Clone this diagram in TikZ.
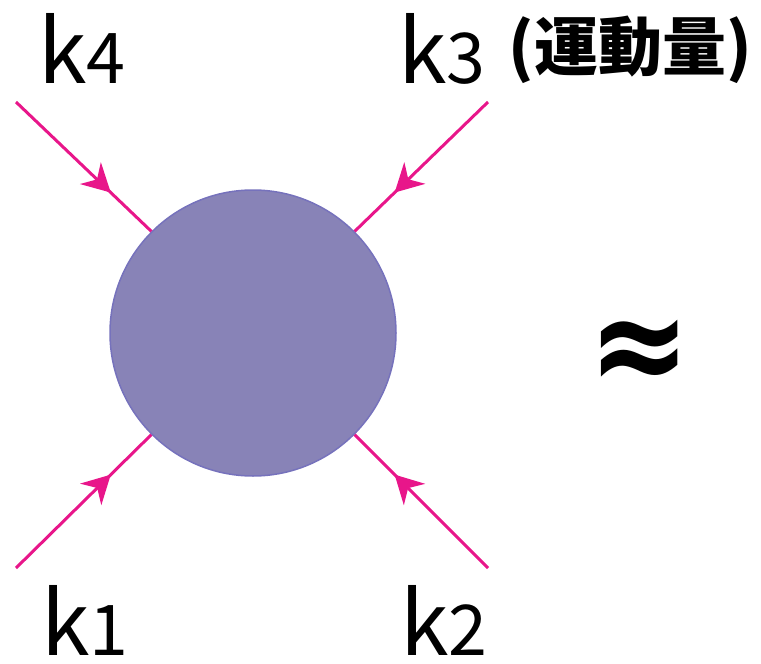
\documentclass[tikz,border=0pt]{standalone}
\usepackage{fontspec}
\setmainfont{Noto Sans CJK JP}
\newfontfamily\symfont{DejaVu Sans}
\usepackage{graphicx}
\usepackage{tikz}
\usetikzlibrary{arrows.meta,decorations.markings}
\definecolor{blobfill}{HTML}{8883B7}
\definecolor{blobstroke}{HTML}{7672BC}
\definecolor{legpink}{HTML}{E8168A}
\newcommand{\mdig}[1]{{\fontsize{70}{70}\selectfont #1}}
\tikzset{
  blob/.style   = {circle, fill=blobfill, draw=blobstroke, line width=1.5pt,
                   minimum size=286pt, inner sep=0pt},
  leg/.style    = {draw=legpink, line width=3pt,
                   postaction={decorate},
                   decoration={markings, mark=at position 0.7 with
                     {\arrow[legpink]{Stealth[length=28pt,width=30pt,inset=9pt]}}}},
  mom/.style    = {font=\fontsize{88}{88}\selectfont, anchor=base west, inner sep=0pt},
  note/.style   = {font=\fontsize{64}{64}\selectfont\bfseries, inner sep=0pt},
  approx/.style = {font=\fontsize{100}{100}\selectfont\symfont\bfseries, inner sep=0pt},
}

\begin{document}
\begin{tikzpicture}[x=1pt,y=-1pt]
  \useasboundingbox (0,0) rectangle (761,664);

  % ---------------- vertex ----------------
  \node[blob] (blob) at (253,333) {};

  % ---------------- external legs ----------------
  \coordinate (p4) at (16,102);
  \coordinate (p3) at (488,102);
  \coordinate (p1) at (16,568);
  \coordinate (p2) at (488,568);
  \draw[leg] (p4) -- (blob.135);
  \draw[leg] (p3) -- (blob.45);
  \draw[leg] (p1) -- (blob.225);
  \draw[leg] (p2) -- (blob.315);

  % ---------------- labels ----------------
  \node[mom] (k4) at (38,83)  {k\mdig{4}};
  \node[mom] (k3) at (398,83) {k\mdig{3}};
  \node[mom] (k1) at (41,655) {k\mdig{1}};
  \node[mom] (k2) at (400,655) {k\mdig{2}};
  \node[note] (note) at (630,50) {(運動量)};
  \node[approx] (approx) at (640,356) {\scalebox{1.22}[1.4]{≈}};
\end{tikzpicture}
\end{document}
